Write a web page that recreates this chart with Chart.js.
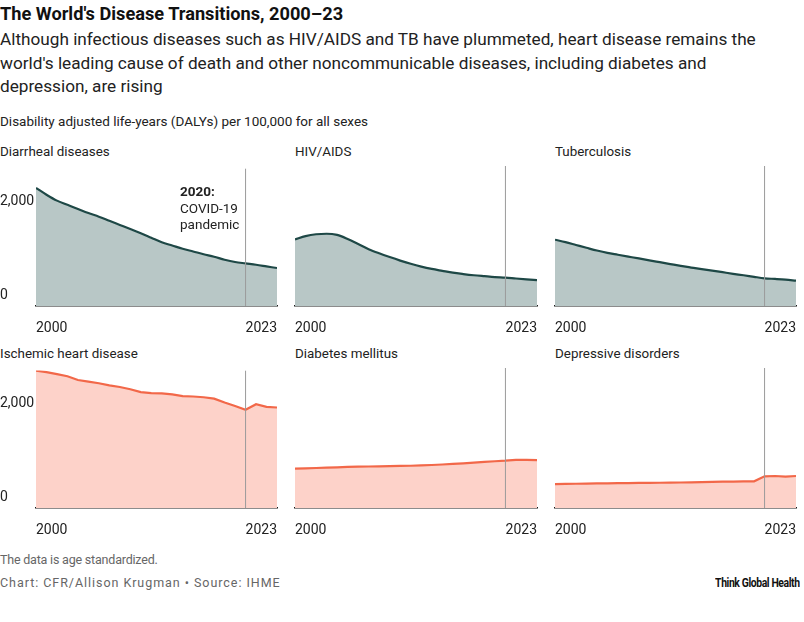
<!DOCTYPE html>
<html>
<head>
<meta charset="utf-8">
<script src="https://cdn.jsdelivr.net/npm/chart.js@4.4.1/dist/chart.umd.min.js"></script>
<style>
  body { margin: 0; background: #fff; font-family: Roboto, "Noto Sans", sans-serif; color: #1a1a1a; }
  #wrap { position: relative; width: 804px; height: 622px; overflow: hidden; }
  .t { position: absolute; white-space: nowrap; }
  canvas { position: absolute; }
  .title { left: 0; top: 3px; font-size: 18.2px; font-weight: 700; color: #111; }
  .sub { left: 0; top: 28px; font-size: 17.2px; line-height: 23.5px; color: #222; white-space: normal; width: 775px; }
  .unit { left: 0; top: 113px; font-size: 13.5px; color: #222; }
  .ptitle { font-size: 13.4px; color: #222; }
  .note { left: 180px; top: 183px; font-size: 13.5px; line-height: 16.5px; color: #222; }
  .foot { font-size: 12.5px; color: #666; left: 0; }
  .brand { font-size: 13px; font-weight: 700; color: #111; right: 4px; top: 575px; letter-spacing: -0.5px;
           transform: scaleX(0.8); transform-origin: right center; }
</style>
</head>
<body>
<div id="wrap">
  <div class="t title">The World's Disease Transitions, 2000–23</div>
  <div class="t sub">Although infectious diseases such as HIV/AIDS and TB have plummeted, heart disease remains the world's leading cause of death and other noncommunicable diseases, including diabetes and depression, are rising</div>
  <div class="t unit">Disability adjusted life-years (DALYs) per 100,000 for all sexes</div>

  <div class="t ptitle" style="left:0;top:144px">Diarrheal diseases</div>
  <div class="t ptitle" style="left:295px;top:144px">HIV/AIDS</div>
  <div class="t ptitle" style="left:555px;top:144px">Tuberculosis</div>
  <div class="t ptitle" style="left:0;top:346px">Ischemic heart disease</div>
  <div class="t ptitle" style="left:295px;top:346px">Diabetes mellitus</div>
  <div class="t ptitle" style="left:555px;top:346px">Depressive disorders</div>

  <canvas id="c1" width="283" height="180" style="left:0;top:160px"></canvas>
  <canvas id="c2" width="254" height="180" style="left:289px;top:160px"></canvas>
  <canvas id="c3" width="253" height="180" style="left:549px;top:160px"></canvas>
  <canvas id="c4" width="283" height="180" style="left:0;top:362px"></canvas>
  <canvas id="c5" width="254" height="180" style="left:289px;top:362px"></canvas>
  <canvas id="c6" width="253" height="180" style="left:549px;top:362px"></canvas>

  <div class="t note"><b>2020:</b><br>COVID-19<br>pandemic</div>

  <div class="t foot" style="top:552px;letter-spacing:-0.2px">The data is age standardized.</div>
  <div class="t foot" style="top:575px;letter-spacing:0.95px">Chart: CFR/Allison Krugman • Source: IHME</div>
  <div class="t brand">Think Global Health</div>
</div>
<script>
// values (DALYs per 100,000)
const years = [2000, 2001, 2002, 2003, 2004, 2005, 2006, 2007, 2008, 2009, 2010, 2011,
               2012, 2013, 2014, 2015, 2016, 2017, 2018, 2019, 2020, 2021, 2022, 2023];
const diarrheal = [2532, 2386, 2259, 2170, 2081, 1993, 1915, 1826, 1738, 1650, 1561, 1463,
                   1365, 1296, 1227, 1169, 1110, 1056, 992, 943, 913, 884, 849, 814];
const hiv = [1404, 1473, 1512, 1522, 1498, 1414, 1306, 1198, 1110, 1031, 957, 889,
             830, 781, 741, 702, 673, 648, 628, 609, 598, 579, 562, 547];
const tb = [1397, 1345, 1286, 1227, 1169, 1119, 1080, 1041, 1002, 962, 923, 884,
            845, 810, 776, 746, 712, 678, 648, 614, 583, 570, 555, 534];
const ischemic = [2947, 2912, 2870, 2825, 2745, 2710, 2675, 2630, 2595, 2545, 2485, 2462,
                  2457, 2435, 2400, 2390, 2375, 2345, 2262, 2185, 2105, 2225, 2168, 2155];
const diabetes = [829, 836, 843, 850, 857, 865, 870, 874, 878, 882, 886, 890,
                  897, 906, 917, 928, 940, 955, 970, 985, 997, 1015, 1015, 1010];
const depressive = [505, 508, 511, 514, 517, 520, 523, 526, 528, 530, 532, 534,
                    537, 540, 545, 550, 554, 557, 560, 562, 667, 674, 661, 674];

const yTicks = [0, 2000];
const xTicks = [2000, 2023];
const covidYear = 2020;
const yMax = 2950;

const infectious = { line: "#1e4846", fill: "#b8c7c6", smooth: true };
const chronic = { line: "#f26849", fill: "#fdd2c9", smooth: false };

function makePanel(id, values, look, showY) {
  var ctx = document.getElementById(id).getContext("2d");
  var points = years.map(function (yr, i) { return { x: yr, y: values[i] }; });
  return new Chart(ctx, {
    type: "line",
    data: {
      datasets: [
        {
          data: [{ x: covidYear, y: 0 }, { x: covidYear, y: yMax }],
          borderColor: "#9a9a9a",
          borderWidth: 1,
          pointRadius: 0,
          fill: false,
        },
        {
          data: points,
          borderColor: look.line,
          backgroundColor: look.fill,
          borderWidth: 2.2,
          pointRadius: 0,
          fill: "origin",
          tension: 0,
          cubicInterpolationMode: look.smooth ? "monotone" : "default",
        },
      ],
    },
    options: {
      responsive: false,
      animation: false,
      events: [],
      layout: { padding: { top: 6, right: 4, left: 0, bottom: 0 } },
      plugins: { legend: { display: false }, tooltip: { enabled: false } },
      scales: {
        x: {
          type: "linear",
          min: years[0],
          max: years[years.length - 1],
          afterBuildTicks: function (scale) {
            scale.ticks = xTicks.map(function (v) { return { value: v }; });
          },
          afterFit: function (scale) { scale.height = 34; },
          grid: { display: false },
          border: { display: true, color: "#1a1a1a", width: 1.5 },
          ticks: {
            align: "inner",
            maxRotation: 0,
            padding: 6,
            color: "#222",
            font: { family: "Roboto", size: 14 },
            callback: function (v) { return String(v); },
          },
        },
        y: {
          display: showY,
          min: 0,
          max: yMax,
          afterBuildTicks: function (scale) {
            scale.ticks = yTicks.map(function (v) { return { value: v }; });
          },
          afterFit: function (scale) { scale.width = showY ? 36 : 0; },
          grid: { display: false },
          border: { display: false },
          ticks: {
            crossAlign: "far",
            labelOffset: -11,
            padding: 0,
            color: "#222",
            font: { family: "Roboto", size: 14 },
            callback: function (v) { return v.toLocaleString("en-US"); },
          },
        },
      },
    },
  });
}

document.addEventListener("DOMContentLoaded", function () {
  makePanel("c1", diarrheal, infectious, true);
  makePanel("c2", hiv, infectious, false);
  makePanel("c3", tb, infectious, false);
  makePanel("c4", ischemic, chronic, true);
  makePanel("c5", diabetes, chronic, false);
  makePanel("c6", depressive, chronic, false);
});
</script>
</body>
</html>
